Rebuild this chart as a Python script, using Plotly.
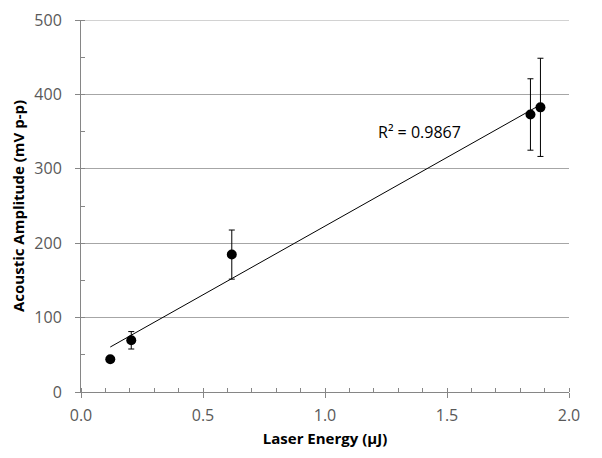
import numpy as np
import plotly.graph_objects as go

energy = [0.12, 0.206, 0.618, 1.842, 1.883]
amplitude = [44, 69.5, 184.7, 373, 382.6]
amp_err = [0, 11.7, 33, 48, 66]
r2_text = "R² = 0.9867"

slope, intercept = np.polyfit(energy, amplitude, 1)
fit_x = [min(energy), max(energy)]
fit_y = [slope * v + intercept for v in fit_x]

fig = go.Figure()
fig.add_trace(go.Scatter(
    x=fit_x, y=fit_y, mode="lines",
    line=dict(color="black", width=1), showlegend=False, hoverinfo="skip"))
fig.add_trace(go.Scatter(
    x=energy, y=amplitude, mode="markers",
    marker=dict(color="black", size=10),
    error_y=dict(type="data", array=amp_err, visible=True, color="black", thickness=1, width=3),
    showlegend=False))

fig.add_annotation(x=1.389, y=349, text=r2_text, showarrow=False,
                   font=dict(family="Open Sans", size=16, color="black"))

# top gridline at the upper end of the y range
fig.add_shape(type="line", xref="paper", x0=0, x1=1, yref="y", y0=500, y1=500,
              line=dict(color="#a6a6a6", width=1), layer="below")

axis_font = dict(family="Open Sans", size=16, color="#595959")
title_font = dict(family="Open Sans", size=15, color="black")

fig.update_xaxes(
    range=[0, 2.0], tickvals=[0, 0.5, 1.0, 1.5, 2.0], ticktext=["0.0", "0.5", "1.0", "1.5", "2.0"],
    showgrid=False, zeroline=False, showline=True, linecolor="#868686", linewidth=1,
    ticks="outside", ticklen=5, tickcolor="#868686", ticklabelstandoff=4,
    minor=dict(dtick=0.1, ticks="inside", ticklen=4, tickcolor="#868686", showgrid=False),
    tickfont=axis_font, automargin=False, ticklabeloverflow="allow",
    title=dict(text="<b>Laser Energy (µJ)</b>", font=title_font, standoff=8))
fig.update_yaxes(
    range=[0, 500], dtick=100,
    showgrid=True, gridcolor="#a6a6a6", gridwidth=1, zeroline=False,
    showline=True, linecolor="#868686", linewidth=1,
    ticks="outside", ticklen=5, tickcolor="#868686", ticklabelstandoff=10,
    minor=dict(dtick=50, ticks="inside", ticklen=4, tickcolor="#868686", showgrid=False),
    tickfont=axis_font, automargin=False, ticklabeloverflow="allow",
    title=dict(text="<b>Acoustic Amplitude (mV p-p)</b>", font=title_font, standoff=10))

fig.update_layout(
    width=602, height=458,
    margin=dict(l=73, r=41, t=12, b=74),
    plot_bgcolor="white", paper_bgcolor="white")

fig.write_html("out.html")
